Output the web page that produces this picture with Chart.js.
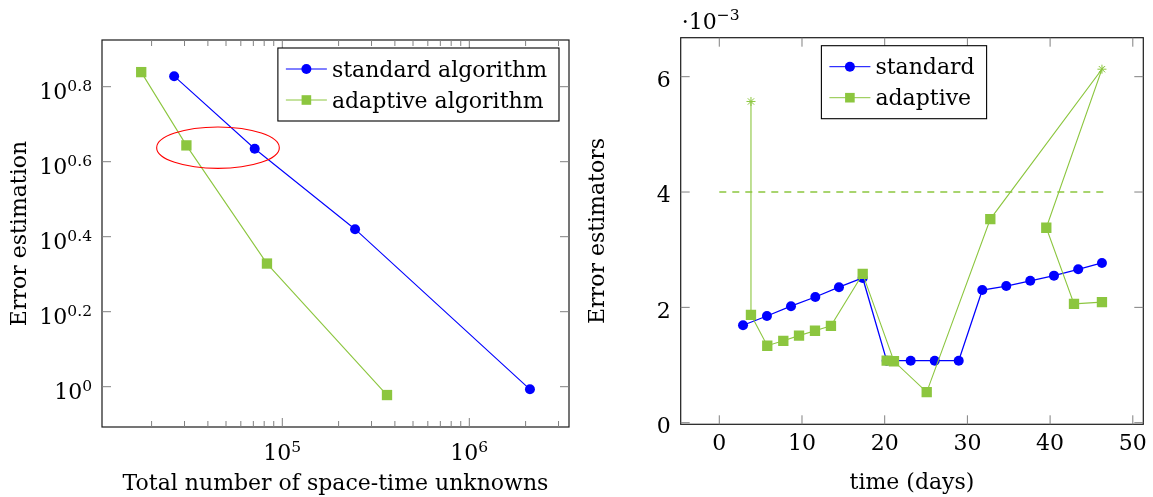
<!DOCTYPE html>
<html><head><meta charset="utf-8">
<script src="https://cdn.jsdelivr.net/npm/chart.js@4.4.1/dist/chart.umd.min.js"></script>
<style>
html,body{margin:0;padding:0;background:#fff;}
#wrap{position:relative;width:1153px;height:497px;overflow:hidden;}
#c1{position:absolute;left:0;top:0;width:580px;height:497px;}
#c2{position:absolute;left:580px;top:0;width:573px;height:497px;}
</style></head><body>
<div id="wrap"><canvas id="c1" width="580" height="497"></canvas><canvas id="c2" width="573" height="497"></canvas></div>
<script>
// ---------- Left chart data ----------
const unknownsStandard = [2.64e4, 7.12e4, 2.45e5, 2.11e6];
const errorStandard    = [6.73, 4.31, 2.63, 0.984];
const unknownsAdaptive = [1.76e4, 3.07e4, 8.28e4, 3.63e5];
const errorAdaptive    = [6.90, 4.40, 2.13, 0.95];
const leftXMajorTicks  = [1e5, 1e6];
const leftXMajorExp    = ['5', '6'];
const leftXMinorTicks  = [2e4,3e4,4e4,5e4,6e4,7e4,8e4,9e4,2e5,3e5,4e5,5e5,6e5,7e5,8e5,9e5,2e6,3e6];
const leftYTickExp     = ['0', '0.2', '0.4', '0.6', '0.8'];
const leftXRange       = [1.086e4, 3.413e6];
const leftYRangeExp    = [-0.1075, 0.9245];
const ellipseCenter    = [4.53e4, 4.34];
const ellipseHalfDecades = [0.328, 0.0552];
const leftLegend       = ['standard algorithm', 'adaptive algorithm'];

// ---------- Right chart data ----------
const timeStandard = [2.87, 5.76, 8.67, 11.61, 14.47, 17.34, 20.24, 23.14, 26.05, 28.95, 31.8, 34.7, 37.6, 40.47, 43.4, 46.27];
const estStandard  = [1.69e-3, 1.85e-3, 2.02e-3, 2.18e-3, 2.35e-3, 2.51e-3, 1.075e-3, 1.075e-3, 1.075e-3, 1.075e-3, 2.30e-3, 2.37e-3, 2.46e-3, 2.55e-3, 2.66e-3, 2.77e-3];
const timeAdaptive = [3.83, 3.83, 5.80, 7.74, 9.64, 11.57, 13.50, 17.34, 21.12, 25.08, 32.77, 46.27, 39.54, 42.89, 46.27];
const estAdaptive  = [5.57e-3, 1.87e-3, 1.335e-3, 1.42e-3, 1.51e-3, 1.595e-3, 1.68e-3, 2.58e-3, 1.065e-3, 0.53e-3, 3.53e-3, 6.13e-3, 3.38e-3, 2.06e-3, 2.09e-3];
const rejectedStep = [true, false, false, false, false, false, false, false, false, false, false, true, false, false, false];
const timeAdaptiveExtra = [20.24];
const estAdaptiveExtra  = [1.075e-3];
const thresholdTime = [0, 47];
const thresholdEst  = [4e-3, 4e-3];
const rightXTicks  = [0, 10, 20, 30, 40, 50];
const rightYTicks  = [0, 2e-3, 4e-3, 6e-3];
const rightYLabels = ['0', '2', '4', '6'];
const rightXRange  = [-4.667, 51.27];
const rightYRange  = [-0.0277e-3, 6.676e-3];
const rightLegend  = ['standard', 'adaptive'];

// ---------- styling ----------
const FONT = 'DejaVu Serif';
const MAIN = 22, SUP = 15.5;
const BLUE = '#0000ff', GREEN = '#8cc63f', RED = '#ff0000';
const TICKC = '#808080';
const f = s => s + 'px "' + FONT + '"';

function frame(ctx, a) {
  ctx.save(); ctx.strokeStyle = '#1a1a1a'; ctx.lineWidth = 1.2;
  ctx.strokeRect(a.left, a.top, a.right - a.left, a.bottom - a.top); ctx.restore();
}
function tickMarks(ctx, scale, a, values, len, horizontal) {
  ctx.save(); ctx.strokeStyle = TICKC; ctx.lineWidth = 1; ctx.beginPath();
  values.forEach(v => {
    const p = scale.getPixelForValue(v);
    if (horizontal) { ctx.moveTo(p, a.bottom); ctx.lineTo(p, a.bottom - len); ctx.moveTo(p, a.top); ctx.lineTo(p, a.top + len); }
    else { ctx.moveTo(a.left, p); ctx.lineTo(a.left + len, p); ctx.moveTo(a.right, p); ctx.lineTo(a.right - len, p); }
  });
  ctx.stroke(); ctx.restore();
}
function powerLabel(ctx, base, exp, x, y, align, rise) {
  ctx.save(); ctx.fillStyle = '#000'; ctx.textAlign = 'left'; ctx.textBaseline = 'alphabetic';
  ctx.font = f(MAIN); const wb = ctx.measureText(base).width;
  ctx.font = f(SUP); const we = ctx.measureText(exp).width;
  const x0 = align === 'right' ? x - wb - we : (align === 'left' ? x : x - (wb + we) / 2);
  ctx.font = f(MAIN); ctx.fillText(base, x0, y);
  ctx.font = f(SUP); ctx.fillText(exp, x0 + wb, y - rise);
  ctx.restore();
}
function plainLabel(ctx, text, x, y, align) {
  ctx.save(); ctx.fillStyle = '#000'; ctx.font = f(MAIN); ctx.textAlign = align; ctx.textBaseline = 'alphabetic';
  ctx.fillText(text, x, y); ctx.restore();
}
function marker(ctx, style, color, x, y, side) {
  ctx.save(); ctx.fillStyle = color;
  if (style === 'circle') { ctx.beginPath(); ctx.arc(x, y, side / 2, 0, Math.PI * 2); ctx.fill(); }
  else { ctx.fillRect(x - side / 2, y - side / 2, side, side); }
  ctx.restore();
}
function legend(ctx, anchorX, mode, top, labels, styles) {
  ctx.save(); ctx.font = f(MAIN);
  const tw = Math.max(...labels.map(l => ctx.measureText(l).width));
  const w = 54 + tw + 12, h = 73;
  const left = mode === 'right' ? anchorX - w : anchorX - w / 2;
  ctx.fillStyle = '#fff'; ctx.fillRect(left, top, w, h);
  ctx.strokeStyle = '#000'; ctx.lineWidth = 1.1; ctx.strokeRect(left, top, w, h);
  const rows = [top + 21, top + 52];
  labels.forEach((l, i) => {
    const st = styles[i];
    ctx.strokeStyle = st.color; ctx.lineWidth = 1; ctx.beginPath();
    ctx.moveTo(left + 8, rows[i]); ctx.lineTo(left + 49, rows[i]); ctx.stroke();
    marker(ctx, st.shape, st.color, left + 28.5, rows[i], st.shape === 'circle' ? 10 : 9.6);
    ctx.fillStyle = '#000'; ctx.textAlign = 'left'; ctx.textBaseline = 'alphabetic';
    ctx.fillText(l, left + 54, rows[i] + 7.5);
  });
  ctx.restore();
}

Chart.defaults.font.family = FONT;
Chart.defaults.color = '#000';

const titleFont = { family: FONT, size: MAIN, lineHeight: 1.2 };

// ---------- Left chart ----------
const leftPlugin = {
  id: 'leftDecor',
  beforeDatasetsDraw(chart) {
    const { ctx, chartArea: a, scales: { x, y } } = chart;
    frame(ctx, a);
    tickMarks(ctx, x, a, leftXMajorTicks, 9, true);
    tickMarks(ctx, x, a, leftXMinorTicks, 6, true);
    tickMarks(ctx, y, a, leftYTickExp.map(e => Math.pow(10, parseFloat(e))), 9, false);
  },
  afterDatasetsDraw(chart) {
    const { ctx, scales: { x, y } } = chart;
    const cx = x.getPixelForValue(ellipseCenter[0]);
    const cy = y.getPixelForValue(ellipseCenter[1]);
    const lx = Math.log10(ellipseCenter[0]), ly = Math.log10(ellipseCenter[1]);
    const rx = (x.getPixelForValue(Math.pow(10, lx + ellipseHalfDecades[0])) - x.getPixelForValue(Math.pow(10, lx - ellipseHalfDecades[0]))) / 2;
    const ry = Math.abs(y.getPixelForValue(Math.pow(10, ly + ellipseHalfDecades[1])) - y.getPixelForValue(Math.pow(10, ly - ellipseHalfDecades[1]))) / 2;
    ctx.save(); ctx.strokeStyle = RED; ctx.lineWidth = 1.1; ctx.beginPath();
    ctx.ellipse(cx, cy, rx, ry, 0, 0, Math.PI * 2); ctx.stroke(); ctx.restore();
  },
  afterDraw(chart) {
    const { ctx, chartArea: a, scales: { x, y } } = chart;
    leftYTickExp.forEach(e => {
      const p = y.getPixelForValue(Math.pow(10, parseFloat(e)));
      powerLabel(ctx, '10', e, a.left - 10, p + 12, 'right', 8);
    });
    leftXMajorTicks.forEach((v, i) => {
      const p = x.getPixelForValue(v);
      powerLabel(ctx, '10', leftXMajorExp[i], p, a.bottom + 33, 'center', 8);
    });
    legend(ctx, a.right - 10, 'right', a.top + 8, leftLegend,
      [{ color: BLUE, shape: 'circle' }, { color: GREEN, shape: 'rect' }]);
  }
};

new Chart(document.getElementById('c1'), {
  type: 'line',
  data: {
    datasets: [
      { label: leftLegend[0], data: unknownsStandard.map((v, i) => ({ x: v, y: errorStandard[i] })),
        borderColor: BLUE, backgroundColor: BLUE, borderWidth: 1.1, pointStyle: 'circle', pointRadius: 5,
        pointBorderWidth: 0, pointBackgroundColor: BLUE, order: 1 },
      { label: leftLegend[1], data: unknownsAdaptive.map((v, i) => ({ x: v, y: errorAdaptive[i] })),
        borderColor: GREEN, backgroundColor: GREEN, borderWidth: 1.1, pointStyle: 'rect', pointRadius: 7.3,
        pointBorderWidth: 0, pointBackgroundColor: GREEN, order: 0 }
    ]
  },
  options: {
    responsive: false, animation: false,
    layout: { padding: { left: 0, right: 11, top: 40, bottom: 0 } },
    plugins: { legend: { display: false }, tooltip: { enabled: false } },
    scales: {
      x: { type: 'logarithmic', min: leftXRange[0], max: leftXRange[1],
        ticks: { display: false }, grid: { display: false }, border: { display: false },
        title: { display: true, text: 'Total number of space-time unknowns', font: titleFont, color: '#000', padding: { top: 0, bottom: 0 } },
        afterFit(s) { s.height = 70; } },
      y: { type: 'logarithmic', min: Math.pow(10, leftYRangeExp[0]), max: Math.pow(10, leftYRangeExp[1]),
        ticks: { display: false }, grid: { display: false }, border: { display: false },
        title: { display: true, text: 'Error estimation', font: titleFont, color: '#000', padding: { top: 7, bottom: 0 } },
        afterFit(s) { s.width = 102; } }
    }
  },
  plugins: [leftPlugin]
});

// ---------- Right chart ----------
const rightPlugin = {
  id: 'rightDecor',
  beforeDatasetsDraw(chart) {
    const { ctx, chartArea: a, scales: { x, y } } = chart;
    frame(ctx, a);
    tickMarks(ctx, x, a, rightXTicks, 9, true);
    tickMarks(ctx, y, a, rightYTicks, 9, false);
  },
  afterDraw(chart) {
    const { ctx, chartArea: a, scales: { x, y } } = chart;
    rightYTicks.forEach((v, i) => plainLabel(ctx, rightYLabels[i], a.left - 10, y.getPixelForValue(v) + 10.3, 'right'));
    rightXTicks.forEach(v => plainLabel(ctx, String(v), x.getPixelForValue(v), a.bottom + 25.7, 'center'));
    powerLabel(ctx, '\u00B710', '\u22123', a.left + 1, 29.3, 'left', 9);
    legend(ctx, 324, 'center', a.top + 8, rightLegend,
      [{ color: BLUE, shape: 'circle' }, { color: GREEN, shape: 'rect' }]);
  }
};

new Chart(document.getElementById('c2'), {
  type: 'line',
  data: {
    datasets: [
      { label: rightLegend[0], data: timeStandard.map((t, i) => ({ x: t, y: estStandard[i] })),
        borderColor: BLUE, backgroundColor: BLUE, borderWidth: 1.3, pointStyle: 'circle', pointRadius: 5,
        pointBorderWidth: 0, pointBackgroundColor: BLUE, order: 2 },
      { label: rightLegend[1], data: timeAdaptive.map((t, i) => ({ x: t, y: estAdaptive[i] })),
        borderColor: GREEN, backgroundColor: GREEN, borderWidth: 1.1,
        pointStyle: rejectedStep.map(r => r ? 'star' : 'rect'),
        pointRadius: rejectedStep.map(r => r ? 4.5 : 7.3),
        pointBorderWidth: rejectedStep.map(r => r ? 1 : 0),
        pointBorderColor: GREEN, pointBackgroundColor: GREEN, order: 0 },
      { label: 'adaptive-extra', data: timeAdaptiveExtra.map((t, i) => ({ x: t, y: estAdaptiveExtra[i] })),
        showLine: false, pointStyle: 'rect', pointRadius: 7.3, pointBorderWidth: 0,
        pointBackgroundColor: GREEN, borderColor: GREEN, order: 1 },
      { label: 'threshold', data: thresholdTime.map((t, i) => ({ x: t, y: thresholdEst[i] })),
        borderColor: GREEN, borderWidth: 1.4, borderDash: [7, 6], pointRadius: 0, order: 3 }
    ]
  },
  options: {
    responsive: false, animation: false,
    layout: { padding: { left: 0, right: 9.7, top: 37.7, bottom: 0 } },
    plugins: { legend: { display: false }, tooltip: { enabled: false } },
    scales: {
      x: { type: 'linear', min: rightXRange[0], max: rightXRange[1],
        ticks: { display: false }, grid: { display: false }, border: { display: false },
        title: { display: true, text: 'time (days)', font: titleFont, color: '#000', padding: { top: 0, bottom: 1 } },
        afterFit(s) { s.height = 72.7; } },
      y: { type: 'linear', min: rightYRange[0], max: rightYRange[1],
        ticks: { display: false }, grid: { display: false }, border: { display: false },
        title: { display: true, text: 'Error estimators', font: titleFont, color: '#000', padding: { top: 5, bottom: 0 } },
        afterFit(s) { s.width = 100.7; } }
    }
  },
  plugins: [rightPlugin]
});
</script>
</body></html>
